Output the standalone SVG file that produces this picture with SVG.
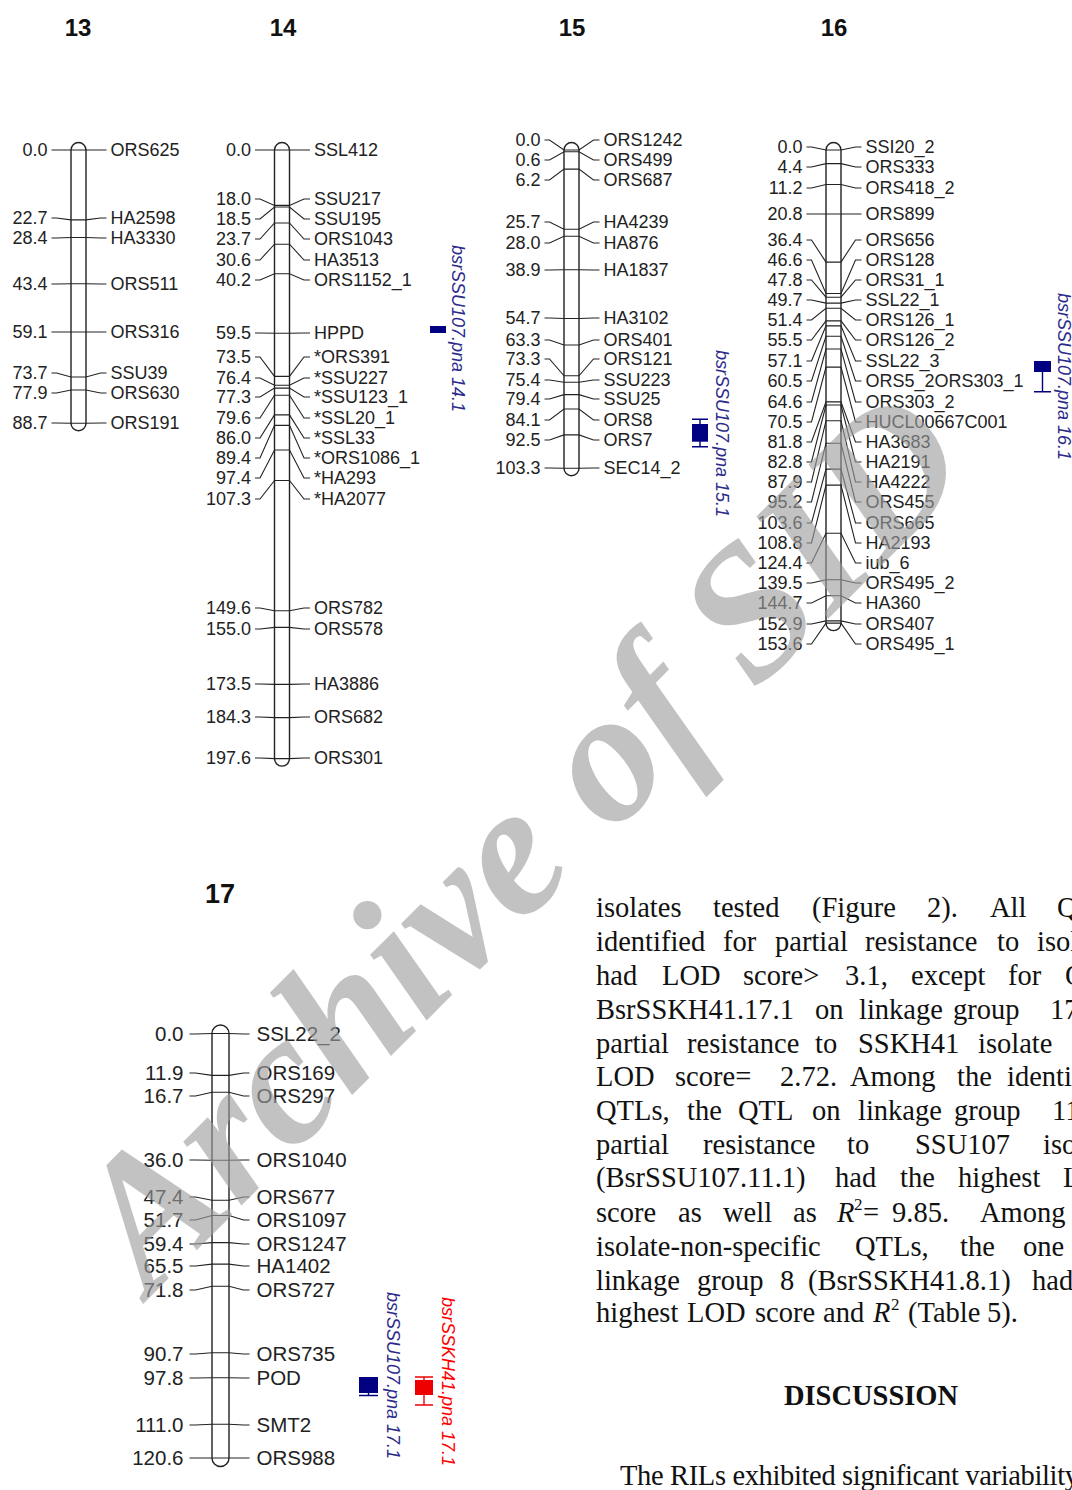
<svg xmlns="http://www.w3.org/2000/svg" width="1072" height="1490" viewBox="0 0 1072 1490">
<style>
.t{font-family:"Liberation Sans",Arial,sans-serif;font-weight:bold;fill:#111;text-anchor:middle}
.n{font-family:"Liberation Sans",Arial,sans-serif;font-size:18px;fill:#222;text-anchor:end}
.m{font-family:"Liberation Sans",Arial,sans-serif;font-size:18px;fill:#222}
.n7{font-family:"Liberation Sans",Arial,sans-serif;font-size:20.5px;fill:#222;text-anchor:end}
.m7{font-family:"Liberation Sans",Arial,sans-serif;font-size:20.5px;fill:#222}
.rod{fill:#fff;stroke:#222;stroke-width:1.4}
.lk{fill:none;stroke:#222;stroke-width:1.1}
.q{font-family:"Liberation Sans",Arial,sans-serif;font-style:italic;font-size:18px;fill:#2b2b8c}
.qb{fill:#000080}
.ql{stroke:#000080;stroke-width:1.4;fill:none}
.qr{fill:#ee0000}
.qrl{stroke:#ee0000;stroke-width:1.4;fill:none}
.b{font-family:"Liberation Serif","Times New Roman",serif;font-size:28.5px;fill:#111}
</style>
<rect width="1072" height="1490" fill="#fff"/>

<g id="titles">
<text class="t" x="78" y="36" font-size="24">13</text>
<text class="t" x="283" y="36" font-size="24">14</text>
<text class="t" x="572" y="36" font-size="24">15</text>
<text class="t" x="834" y="36" font-size="24">16</text>
<text class="t" x="220" y="903" font-size="27">17</text>
</g>

<g id="lg13" transform="translate(78.5,0)">
<rect class="rod" x="-7.5" y="142.5" width="15" height="288.2" rx="7.5"/>
<path class="lk" d="M-27,150H-22L-7.5,150H7.5L22,150H28M-27,218H-22L-7.5,219.9H7.5L22,218H28M-27,238H-22L-7.5,237.5H7.5L22,238H28M-27,284H-22L-7.5,283.7H7.5L22,284H28M-27,332H-22L-7.5,332H7.5L22,332H28M-27,373H-22L-7.5,377H7.5L22,373H28M-27,393H-22L-7.5,390H7.5L22,393H28M-27,423H-22L-7.5,423.2H7.5L22,423H28"/>
<text class="n" x="-31" y="156">0.0</text><text class="m" x="32" y="156">ORS625</text>
<text class="n" x="-31" y="224">22.7</text><text class="m" x="32" y="224">HA2598</text>
<text class="n" x="-31" y="244">28.4</text><text class="m" x="32" y="244">HA3330</text>
<text class="n" x="-31" y="290">43.4</text><text class="m" x="32" y="290">ORS511</text>
<text class="n" x="-31" y="338">59.1</text><text class="m" x="32" y="338">ORS316</text>
<text class="n" x="-31" y="379">73.7</text><text class="m" x="32" y="379">SSU39</text>
<text class="n" x="-31" y="399">77.9</text><text class="m" x="32" y="399">ORS630</text>
<text class="n" x="-31" y="429">88.7</text><text class="m" x="32" y="429">ORS191</text>
</g>

<g id="lg14" transform="translate(282,0)">
<rect class="rod" x="-7.5" y="142.5" width="15" height="623.6" rx="7.5"/>
<path class="lk" d="M-27,150H-22L-7.5,150H7.5L22,150H28M-27,199H-22L-7.5,205.4H7.5L22,199H28M-27,219H-22L-7.5,207H7.5L22,219H28M-27,239H-22L-7.5,223H7.5L22,239H28M-27,260H-22L-7.5,244.2H7.5L22,260H28M-27,280H-22L-7.5,273.8H7.5L22,280H28M-27,333H-22L-7.5,333.3H7.5L22,333H28M-27,357H-22L-7.5,376.4H7.5L22,357H28M-27,378H-22L-7.5,385.3H7.5L22,378H28M-27,397H-22L-7.5,388.1H7.5L22,397H28M-27,418H-22L-7.5,395.2H7.5L22,418H28M-27,438H-22L-7.5,414.9H7.5L22,438H28M-27,458H-22L-7.5,425.4H7.5L22,458H28M-27,478H-22L-7.5,450H7.5L22,478H28M-27,499H-22L-7.5,480.5H7.5L22,499H28M-27,608H-22L-7.5,610.8H7.5L22,608H28M-27,629H-22L-7.5,627.4H7.5L22,629H28M-27,684H-22L-7.5,684.4H7.5L22,684H28M-27,717H-22L-7.5,717.6H7.5L22,717H28M-27,758H-22L-7.5,758.6H7.5L22,758H28"/>
<text class="n" x="-31" y="156">0.0</text><text class="m" x="32" y="156">SSL412</text>
<text class="n" x="-31" y="205">18.0</text><text class="m" x="32" y="205">SSU217</text>
<text class="n" x="-31" y="225">18.5</text><text class="m" x="32" y="225">SSU195</text>
<text class="n" x="-31" y="245">23.7</text><text class="m" x="32" y="245">ORS1043</text>
<text class="n" x="-31" y="266">30.6</text><text class="m" x="32" y="266">HA3513</text>
<text class="n" x="-31" y="286">40.2</text><text class="m" x="32" y="286">ORS1152_1</text>
<text class="n" x="-31" y="339">59.5</text><text class="m" x="32" y="339">HPPD</text>
<text class="n" x="-31" y="363">73.5</text><text class="m" x="32" y="363">*ORS391</text>
<text class="n" x="-31" y="384">76.4</text><text class="m" x="32" y="384">*SSU227</text>
<text class="n" x="-31" y="403">77.3</text><text class="m" x="32" y="403">*SSU123_1</text>
<text class="n" x="-31" y="424">79.6</text><text class="m" x="32" y="424">*SSL20_1</text>
<text class="n" x="-31" y="444">86.0</text><text class="m" x="32" y="444">*SSL33</text>
<text class="n" x="-31" y="464">89.4</text><text class="m" x="32" y="464">*ORS1086_1</text>
<text class="n" x="-31" y="484">97.4</text><text class="m" x="32" y="484">*HA293</text>
<text class="n" x="-31" y="505">107.3</text><text class="m" x="32" y="505">*HA2077</text>
<text class="n" x="-31" y="614">149.6</text><text class="m" x="32" y="614">ORS782</text>
<text class="n" x="-31" y="635">155.0</text><text class="m" x="32" y="635">ORS578</text>
<text class="n" x="-31" y="690">173.5</text><text class="m" x="32" y="690">HA3886</text>
<text class="n" x="-31" y="723">184.3</text><text class="m" x="32" y="723">ORS682</text>
<text class="n" x="-31" y="764">197.6</text><text class="m" x="32" y="764">ORS301</text>
</g>

<g id="lg15" transform="translate(571.5,0)">
<rect class="rod" x="-7.5" y="142.5" width="15" height="333.2" rx="7.5"/>
<path class="lk" d="M-27,140H-22L-7.5,150H7.5L22,140H28M-27,160H-22L-7.5,151.8H7.5L22,160H28M-27,180H-22L-7.5,169.1H7.5L22,180H28M-27,222H-22L-7.5,229.2H7.5L22,222H28M-27,243H-22L-7.5,236.2H7.5L22,243H28M-27,270H-22L-7.5,269.8H7.5L22,270H28M-27,318H-22L-7.5,318.5H7.5L22,318H28M-27,340H-22L-7.5,345H7.5L22,340H28M-27,359H-22L-7.5,375.8H7.5L22,359H28M-27,380H-22L-7.5,382.2H7.5L22,380H28M-27,399H-22L-7.5,394.6H7.5L22,399H28M-27,420H-22L-7.5,409H7.5L22,420H28M-27,440H-22L-7.5,434.9H7.5L22,440H28M-27,468H-22L-7.5,468.2H7.5L22,468H28"/>
<text class="n" x="-31" y="146">0.0</text><text class="m" x="32" y="146">ORS1242</text>
<text class="n" x="-31" y="166">0.6</text><text class="m" x="32" y="166">ORS499</text>
<text class="n" x="-31" y="186">6.2</text><text class="m" x="32" y="186">ORS687</text>
<text class="n" x="-31" y="228">25.7</text><text class="m" x="32" y="228">HA4239</text>
<text class="n" x="-31" y="249">28.0</text><text class="m" x="32" y="249">HA876</text>
<text class="n" x="-31" y="276">38.9</text><text class="m" x="32" y="276">HA1837</text>
<text class="n" x="-31" y="324">54.7</text><text class="m" x="32" y="324">HA3102</text>
<text class="n" x="-31" y="346">63.3</text><text class="m" x="32" y="346">ORS401</text>
<text class="n" x="-31" y="365">73.3</text><text class="m" x="32" y="365">ORS121</text>
<text class="n" x="-31" y="386">75.4</text><text class="m" x="32" y="386">SSU223</text>
<text class="n" x="-31" y="405">79.4</text><text class="m" x="32" y="405">SSU25</text>
<text class="n" x="-31" y="426">84.1</text><text class="m" x="32" y="426">ORS8</text>
<text class="n" x="-31" y="446">92.5</text><text class="m" x="32" y="446">ORS7</text>
<text class="n" x="-31" y="474">103.3</text><text class="m" x="32" y="474">SEC14_2</text>
</g>

<g id="lg16" transform="translate(833.5,0)">
<rect class="rod" x="-7.5" y="142.5" width="15" height="488.1" rx="7.5"/>
<path class="lk" d="M-27,147H-22L-7.5,150H7.5L22,147H28M-27,167H-22L-7.5,163.6H7.5L22,167H28M-27,188H-22L-7.5,184.5H7.5L22,188H28M-27,214H-22L-7.5,214H7.5L22,214H28M-27,240H-22L-7.5,262.1H7.5L22,240H28M-27,260H-22L-7.5,293.5H7.5L22,260H28M-27,280H-22L-7.5,297.2H7.5L22,280H28M-27,300H-22L-7.5,303.1H7.5L22,300H28M-27,320H-22L-7.5,308.3H7.5L22,320H28M-27,340H-22L-7.5,320.9H7.5L22,340H28M-27,361H-22L-7.5,325.9H7.5L22,361H28M-27,381H-22L-7.5,336.3H7.5L22,381H28M-27,402H-22L-7.5,349H7.5L22,402H28M-27,422H-22L-7.5,367.1H7.5L22,422H28M-27,442H-22L-7.5,401.9H7.5L22,442H28M-27,462H-22L-7.5,405H7.5L22,462H28M-27,482H-22L-7.5,420.7H7.5L22,482H28M-27,502H-22L-7.5,443.2H7.5L22,502H28M-27,523H-22L-7.5,469.1H7.5L22,523H28M-27,543H-22L-7.5,485.1H7.5L22,543H28M-27,563H-22L-7.5,533.2H7.5L22,563H28M-27,583H-22L-7.5,579.7H7.5L22,583H28M-27,603H-22L-7.5,595.7H7.5L22,603H28M-27,624H-22L-7.5,620.9H7.5L22,624H28M-27,644H-22L-7.5,623.1H7.5L22,644H28"/>
<text class="n" x="-31" y="153">0.0</text><text class="m" x="32" y="153">SSI20_2</text>
<text class="n" x="-31" y="173">4.4</text><text class="m" x="32" y="173">ORS333</text>
<text class="n" x="-31" y="194">11.2</text><text class="m" x="32" y="194">ORS418_2</text>
<text class="n" x="-31" y="220">20.8</text><text class="m" x="32" y="220">ORS899</text>
<text class="n" x="-31" y="246">36.4</text><text class="m" x="32" y="246">ORS656</text>
<text class="n" x="-31" y="266">46.6</text><text class="m" x="32" y="266">ORS128</text>
<text class="n" x="-31" y="286">47.8</text><text class="m" x="32" y="286">ORS31_1</text>
<text class="n" x="-31" y="306">49.7</text><text class="m" x="32" y="306">SSL22_1</text>
<text class="n" x="-31" y="326">51.4</text><text class="m" x="32" y="326">ORS126_1</text>
<text class="n" x="-31" y="346">55.5</text><text class="m" x="32" y="346">ORS126_2</text>
<text class="n" x="-31" y="367">57.1</text><text class="m" x="32" y="367">SSL22_3</text>
<text class="n" x="-31" y="387">60.5</text><text class="m" x="32" y="387">ORS5_2ORS303_1</text>
<text class="n" x="-31" y="408">64.6</text><text class="m" x="32" y="408">ORS303_2</text>
<text class="n" x="-31" y="428">70.5</text><text class="m" x="32" y="428">HUCL00667C001</text>
<text class="n" x="-31" y="448">81.8</text><text class="m" x="32" y="448">HA3683</text>
<text class="n" x="-31" y="468">82.8</text><text class="m" x="32" y="468">HA2191</text>
<text class="n" x="-31" y="488">87.9</text><text class="m" x="32" y="488">HA4222</text>
<text class="n" x="-31" y="508">95.2</text><text class="m" x="32" y="508">ORS455</text>
<text class="n" x="-31" y="529">103.6</text><text class="m" x="32" y="529">ORS665</text>
<text class="n" x="-31" y="549">108.8</text><text class="m" x="32" y="549">HA2193</text>
<text class="n" x="-31" y="569">124.4</text><text class="m" x="32" y="569">iub_6</text>
<text class="n" x="-31" y="589">139.5</text><text class="m" x="32" y="589">ORS495_2</text>
<text class="n" x="-31" y="609">144.7</text><text class="m" x="32" y="609">HA360</text>
<text class="n" x="-31" y="630">152.9</text><text class="m" x="32" y="630">ORS407</text>
<text class="n" x="-31" y="650">153.6</text><text class="m" x="32" y="650">ORS495_1</text>
</g>

<g id="lg17" transform="translate(220.5,0)">
<rect class="rod" x="-8.5" y="1025" width="17" height="441.5" rx="8.5"/>
<path class="lk" d="M-31,1034H-25L-8.5,1033.5H8.5L23,1034H29M-31,1073H-25L-8.5,1075.4H8.5L23,1073H29M-31,1096H-25L-8.5,1092.3H8.5L23,1096H29M-31,1160H-25L-8.5,1160.2H8.5L23,1160H29M-31,1197H-25L-8.5,1200.3H8.5L23,1197H29M-31,1220H-25L-8.5,1215.5H8.5L23,1220H29M-31,1244H-25L-8.5,1242.6H8.5L23,1244H29M-31,1266H-25L-8.5,1264.1H8.5L23,1266H29M-31,1290H-25L-8.5,1286.2H8.5L23,1290H29M-31,1354H-25L-8.5,1352.8H8.5L23,1354H29M-31,1378H-25L-8.5,1377.8H8.5L23,1378H29M-31,1425H-25L-8.5,1424.2H8.5L23,1425H29M-31,1458H-25L-8.5,1458H8.5L23,1458H29"/>
<text class="n7" x="-37" y="1041">0.0</text><text class="m7" x="36" y="1041">SSL22_2</text>
<text class="n7" x="-37" y="1080">11.9</text><text class="m7" x="36" y="1080">ORS169</text>
<text class="n7" x="-37" y="1103">16.7</text><text class="m7" x="36" y="1103">ORS297</text>
<text class="n7" x="-37" y="1167">36.0</text><text class="m7" x="36" y="1167">ORS1040</text>
<text class="n7" x="-37" y="1204">47.4</text><text class="m7" x="36" y="1204">ORS677</text>
<text class="n7" x="-37" y="1227">51.7</text><text class="m7" x="36" y="1227">ORS1097</text>
<text class="n7" x="-37" y="1251">59.4</text><text class="m7" x="36" y="1251">ORS1247</text>
<text class="n7" x="-37" y="1273">65.5</text><text class="m7" x="36" y="1273">HA1402</text>
<text class="n7" x="-37" y="1297">71.8</text><text class="m7" x="36" y="1297">ORS727</text>
<text class="n7" x="-37" y="1361">90.7</text><text class="m7" x="36" y="1361">ORS735</text>
<text class="n7" x="-37" y="1385">97.8</text><text class="m7" x="36" y="1385">POD</text>
<text class="n7" x="-37" y="1432">111.0</text><text class="m7" x="36" y="1432">SMT2</text>
<text class="n7" x="-37" y="1465">120.6</text><text class="m7" x="36" y="1465">ORS988</text>
</g>

<g id="qtl14">
<rect class="qb" x="430" y="326" width="16" height="7"/>
<text class="q" transform="translate(452,245) rotate(90)">bsrSSU107.pna 14.1</text>
</g>
<g id="qtl15">
<path class="ql" d="M692,419.3H708M700,419.3V446.7M692,446.7H708"/>
<rect class="qb" x="692" y="424" width="16" height="17.7"/>
<text class="q" transform="translate(716,350) rotate(90)">bsrSSU107.pna 15.1</text>
</g>
<g id="qtl16">
<path class="ql" d="M1034,361.7H1051M1042.5,371.7V391.7M1034,391.7H1051"/>
<rect class="qb" x="1034" y="362" width="17" height="10"/>
<text class="q" transform="translate(1058,293) rotate(90)">bsrSSU107.pna 16.1</text>
</g>
<g id="qtl17a">
<path class="ql" d="M359,1395.5H378M368.5,1393V1395.5"/>
<rect class="qb" x="359" y="1377" width="19" height="16"/>
<text class="q" font-size="21" transform="translate(387,1292) rotate(90)">bsrSSU107.pna 17.1</text>
</g>
<g id="qtl17b">
<path class="qrl" d="M415,1377H433M424,1377V1405M415,1405H433"/>
<rect class="qr" x="415" y="1380" width="18" height="15"/>
<text class="q" font-size="21" style="fill:#ff0000" transform="translate(442,1297) rotate(90)">bsrSSKH41.pna 17.1</text>
</g>

<g id="bodytext" class="b">
<text y="917"><tspan x="596">isolates</tspan><tspan x="713">tested</tspan><tspan x="812">(Figure</tspan><tspan x="927">2).</tspan><tspan x="990">All</tspan><tspan x="1057">QTLs</tspan></text>
<text y="951"><tspan x="596">identified</tspan><tspan x="723">for</tspan><tspan x="775">partial</tspan><tspan x="865">resistance</tspan><tspan x="997">to</tspan><tspan x="1037">isolates</tspan></text>
<text y="985"><tspan x="596">had</tspan><tspan x="662">LOD</tspan><tspan x="743">score&gt;</tspan><tspan x="845">3.1,</tspan><tspan x="911">except</tspan><tspan x="1008">for</tspan><tspan x="1065">QTL</tspan></text>
<text y="1019"><tspan x="596">BsrSSKH41.17.1</tspan><tspan x="815">on</tspan><tspan x="859">linkage</tspan><tspan x="953">group</tspan><tspan x="1050">17</tspan></text>
<text y="1053"><tspan x="596">partial</tspan><tspan x="687">resistance</tspan><tspan x="815">to</tspan><tspan x="858">SSKH41</tspan><tspan x="978">isolate</tspan></text>
<text y="1086"><tspan x="596">LOD</tspan><tspan x="675">score=</tspan><tspan x="780">2.72.</tspan><tspan x="850">Among</tspan><tspan x="957">the</tspan><tspan x="1007">identified</tspan></text>
<text y="1120"><tspan x="596">QTLs,</tspan><tspan x="687">the</tspan><tspan x="738">QTL</tspan><tspan x="812">on</tspan><tspan x="858">linkage</tspan><tspan x="954">group</tspan><tspan x="1052">11</tspan></text>
<text y="1154"><tspan x="596">partial</tspan><tspan x="703">resistance</tspan><tspan x="847">to</tspan><tspan x="915">SSU107</tspan><tspan x="1043">isolate</tspan></text>
<text y="1187"><tspan x="596">(BsrSSU107.11.1)</tspan><tspan x="835">had</tspan><tspan x="900">the</tspan><tspan x="958">highest</tspan><tspan x="1063">LOD</tspan></text>
<text y="1222"><tspan x="596">score</tspan><tspan x="678">as</tspan><tspan x="723">well</tspan><tspan x="793">as</tspan><tspan x="837" font-style="italic">R</tspan><tspan x="854" dy="-12" font-size="17">2</tspan><tspan x="863" dy="12">=</tspan><tspan x="892">9.85.</tspan><tspan x="980">Among</tspan></text>
<text y="1256"><tspan x="596">isolate-non-specific</tspan><tspan x="855">QTLs,</tspan><tspan x="960">the</tspan><tspan x="1023">one</tspan></text>
<text y="1290"><tspan x="596">linkage</tspan><tspan x="697">group</tspan><tspan x="780">8</tspan><tspan x="808">(BsrSSKH41.8.1)</tspan><tspan x="1032">had</tspan></text>
<text y="1322"><tspan x="596">highest</tspan><tspan x="687">LOD</tspan><tspan x="755">score</tspan><tspan x="823">and</tspan><tspan x="873" font-style="italic">R</tspan><tspan x="891" dy="-12" font-size="17">2</tspan><tspan x="908" dy="12">(Table</tspan><tspan x="987">5).</tspan></text>
<text x="871" y="1405" font-weight="bold" text-anchor="middle">DISCUSSION</text>
<text x="620" y="1485" letter-spacing="-0.35">The RILs exhibited significant variability</text>
</g>

<g id="watermark">
<text transform="translate(150,1297) rotate(-45)" font-family="'Liberation Serif','Times New Roman',serif" font-weight="bold" font-style="italic" font-size="188" fill="#9c9c9c" fill-opacity="0.62">Archive of SID</text>
</g>
</svg>
